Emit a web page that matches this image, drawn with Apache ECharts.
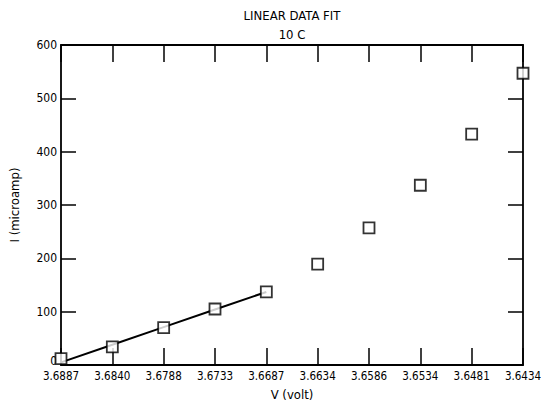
<!DOCTYPE html>
<html>
<head>
<meta charset="utf-8">
<script src="https://cdn.jsdelivr.net/npm/echarts@6/dist/echarts.min.js"></script>
<style>html,body{margin:0;padding:0;background:#fff;}#c{width:541px;height:404px;}</style>
</head>
<body>
<div id="c"></div>
<script>
var categories = ['3.6887','3.6840','3.6788','3.6733','3.6687','3.6634','3.6586','3.6534','3.6481','3.6434'];
var measured = [12, 34, 70, 105, 137, 189, 257, 337, 433, 547];
var fitLine = [5, 38, 71, 104, 137, null, null, null, null, null];
var yTicks = [0, 100, 200, 300, 400, 500, 600];

var FONT = '"DejaVu Sans Condensed", "DejaVu Sans", sans-serif';
var FSTYLE = 'condensed';
var chart = echarts.init(document.getElementById('c'), null, {renderer: 'svg'});
var axisLine = {show: true, onZero: false, lineStyle: {color: '#000', width: 1.8}};
var tickStyle = {color: '#000', width: 1.5};
chart.setOption({
  animation: false,
  backgroundColor: '#fff',
  title: {
    text: 'LINEAR DATA FIT\n10 C',
    left: 292, top: 6, padding: 0, textAlign: 'center',
    textStyle: {fontFamily: FONT, fontStyle: FSTYLE, fontWeight: 'normal', fontSize: 13, color: '#000', lineHeight: 19}
  },
  grid: {left: 61, right: 18, top: 45, bottom: 39, containLabel: false, outerBoundsMode: 'none'},
  xAxis: [{
    type: 'category', data: categories, boundaryGap: false, position: 'bottom',
    name: 'V (volt)', nameLocation: 'middle', nameGap: 23,
    nameTextStyle: {fontFamily: FONT, fontStyle: FSTYLE, fontSize: 13, color: '#000'},
    axisLine: axisLine,
    axisTick: {show: true, inside: true, length: 17, lineStyle: tickStyle},
    axisLabel: {fontFamily: FONT, fontStyle: FSTYLE, fontSize: 11.5, color: '#000', margin: 5, interval: 0},
    splitLine: {show: false}
  }, {
    type: 'category', data: categories, boundaryGap: false, position: 'top',
    axisLine: axisLine,
    axisTick: {show: true, inside: true, length: 17, lineStyle: tickStyle},
    axisLabel: {show: false}, splitLine: {show: false}
  }],
  yAxis: [{
    type: 'value', min: 0, max: 600, interval: 100, position: 'left',
    name: 'I (microamp)', nameLocation: 'middle', nameGap: 40, nameRotate: 90,
    nameTextStyle: {fontFamily: FONT, fontStyle: FSTYLE, fontSize: 13, color: '#000'},
    axisLine: axisLine,
    axisTick: {show: true, inside: true, length: 15, lineStyle: tickStyle},
    axisLabel: {fontFamily: FONT, fontStyle: FSTYLE, fontSize: 12, color: '#000', margin: 4,
      formatter: function (v) {
        if (yTicks.indexOf(v) < 0) return '';
        return v === 0 ? '{z|0}' : String(v);
      },
      rich: {z: {fontFamily: FONT, fontStyle: FSTYLE, fontSize: 12, color: '#000', padding: [0, 0, 8, 0]}}},
    splitLine: {show: false}
  }, {
    type: 'value', min: 0, max: 600, interval: 100, position: 'right',
    axisLine: axisLine,
    axisTick: {show: true, inside: true, length: 15, lineStyle: tickStyle},
    axisLabel: {show: false}, splitLine: {show: false}
  }],
  series: [{
    type: 'line', data: fitLine, showSymbol: false, symbol: 'none',
    lineStyle: {color: '#000', width: 2}, connectNulls: false, z: 2
  }, {
    type: 'scatter', data: measured, symbol: 'rect', symbolSize: 11,
    itemStyle: {color: '#fff', borderColor: '#000', borderWidth: 1.8}, z: 3
  }]
});
</script>
</body>
</html>
